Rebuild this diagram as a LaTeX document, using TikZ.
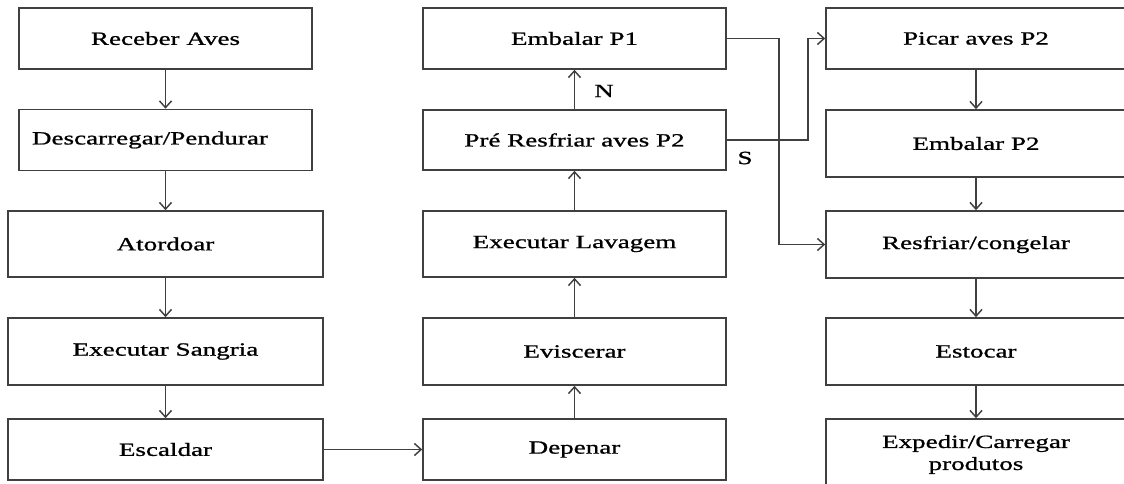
\documentclass[tikz,border=0pt]{standalone}
\usepackage{fontspec}
\setmainfont[FakeStretch=1.45,FakeBold=1]{Liberation Serif}
\usepackage{tikz}
\usetikzlibrary{arrows.meta,positioning}

\tikzset{
  stage/.style 2 args={draw={rgb,255:red,64;green,64;blue,64}, line width=1.2pt, minimum width=#1, minimum height=#2, inner sep=0.75pt, font=\fontsize{14}{16.5}\selectfont, align=center},
  flow/.style={draw={rgb,255:red,64;green,64;blue,64}, line width=1.1pt, -{Straight Barb[length=5pt,width=9pt,line width=1.1pt]}},
  tag/.style={inner sep=0.75pt, font=\fontsize{14}{16.5}\selectfont}
}

\begin{document}
\begin{tikzpicture}[x=0.75pt,y=0.75pt,yscale=-1,xscale=1]
\useasboundingbox (0,0) rectangle (1124,484);

% first column
\node [stage={219.75pt}{45.75pt}] (receber) at (165.5,38.5) {Receber Aves};
\node [stage={219.75pt}{45.75pt}, text width=200.25pt, inner xsep=9.75pt, align=left] (descarregar) at (165.5,140) {Descarregar/Pendurar};
\node [stage={236.25pt}{49.5pt}] (atordoar) at (165.5,244) {Atordoar};
\node [stage={236.25pt}{50.25pt}] (sangria) at (165.5,351.5) {Executar Sangria};
\node [stage={236.25pt}{45.75pt}] (escaldar) at (165.5,449.5) {Escaldar};

% second column
\node [stage={227.25pt}{45.75pt}] (embalarA) at (574.5,38.5) {Embalar P1};
\node [stage={227.25pt}{45pt}] (preresfriar) at (574.5,140) {Pré Resfriar aves P2};
\node [stage={227.25pt}{49.5pt}] (lavagem) at (574.5,244) {Executar Lavagem};
\node [stage={227.25pt}{50.25pt}] (eviscerar) at (574.5,351.5) {Eviscerar};
\node [stage={227.25pt}{45.75pt}] (depenar) at (574.5,449.5) {Depenar};

% third column
\node [stage={225pt}{45.75pt}] (picar) at (976,38.5) {Picar aves P2};
\node [stage={225pt}{50.25pt}] (embalarB) at (976,143.5) {Embalar P2};
\node [stage={225pt}{50.25pt}] (resfriar) at (976,244.5) {Resfriar/congelar};
\node [stage={225pt}{50.25pt}] (estocar) at (976,351.5) {Estocar};
\node [stage={225pt}{53.25pt}] (expedir) at (976,454.5) {Expedir/Carregar\\produtos};

% Text Node
\node [tag] (nao) at (604,91) {N};
\node [tag] (sim) at (745,158) {S};

%Straight Lines
\draw [flow] (receber) -- (descarregar);
\draw [flow] (descarregar) -- (atordoar);
\draw [flow] (atordoar) -- (sangria);
\draw [flow] (sangria) -- (escaldar);
\draw [flow] (escaldar) -- (depenar);
\draw [flow] (depenar) -- (eviscerar);
\draw [flow] (eviscerar) -- (lavagem);
\draw [flow] (lavagem) -- (preresfriar);
\draw [flow] (preresfriar) -- (embalarA);
\draw [flow] (embalarA.east) -- ++(52,0) |- (resfriar.west);
\draw [flow] (preresfriar.east) -- ++(81,0) |- (picar.west);
\draw [flow] (picar) -- (embalarB);
\draw [flow] (embalarB) -- (resfriar);
\draw [flow] (resfriar) -- (estocar);
\draw [flow] (estocar) -- (expedir);

\end{tikzpicture}
\end{document}
